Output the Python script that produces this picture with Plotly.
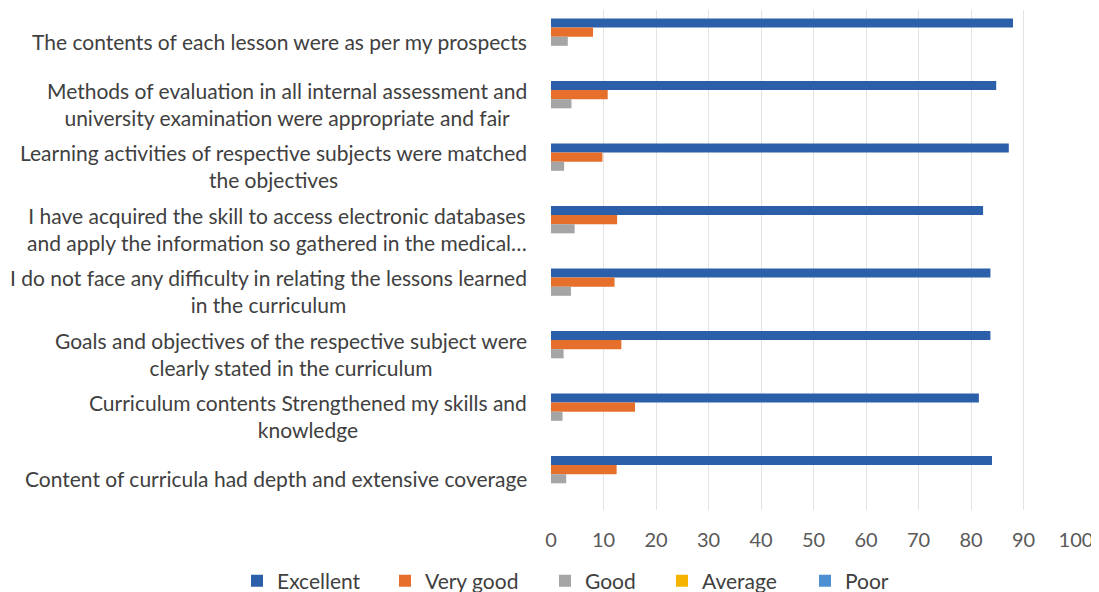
import plotly.graph_objects as go

categories = [
    "The contents of each lesson were as per my prospects",
    "Methods of evaluation in all internal assessment and<br>university examination were appropriate and fair",
    "Learning activities of respective subjects were matched<br>the objectives",
    "I have acquired the skill to access electronic databases<br>and apply the information so gathered in the medical…",
    "I do not face any difficulty in relating the lessons learned<br>in the curriculum",
    "Goals and objectives of the respective subject were<br>clearly stated in the curriculum",
    "Curriculum contents Strengthened my skills and<br>knowledge",
    "Content of curricula had depth and extensive coverage",
]
excellent = [88.0, 84.8, 87.2, 82.3, 83.7, 83.7, 81.5, 84.0]
very_good = [8.0, 10.8, 9.8, 12.6, 12.1, 13.4, 16.0, 12.5]
good = [3.2, 3.9, 2.5, 4.5, 3.8, 2.4, 2.2, 2.9]
average = [0, 0, 0, 0, 0, 0, 0, 0]
poor = [0, 0, 0, 0, 0, 0, 0, 0]
x_ticks = [0, 10, 20, 30, 40, 50, 60, 70, 80, 90, 100]

series = [
    ("Excellent", excellent, "#2c5fa9"),
    ("Very good", very_good, "#e66f2c"),
    ("Good", good, "#a5a5a5"),
    ("Average", average, "#f5b400"),
    ("Poor", poor, "#4d8fd1"),
]
legend_text_left = [277, 425, 585, 702, 845]  # page px where each legend label starts

FONT = "Lato"
W, H = 1091, 584  # page body has an 8px margin
fig = go.Figure()
legend_ids = ["legend", "legend2", "legend3", "legend4", "legend5"]
for (name, vals, col), lid in zip(series, legend_ids):
    fig.add_trace(go.Bar(
        y=categories, x=vals, name=name, orientation="h",
        marker=dict(color=col, line=dict(width=0)), legend=lid,
    ))

for cat in categories:
    fig.add_annotation(
        x=-0.042, xref="paper", y=cat, yref="y",
        text=cat, showarrow=False, xanchor="right", yanchor="middle",
        align="center", font=dict(family=FONT, size=21, color="#404040"),
    )

legend_style = dict(
    orientation="h", xref="container", yref="container",
    xanchor="left", y=1 - (581 - 8) / H, yanchor="middle",
    font=dict(family=FONT, size=21, color="#404040"),
    itemwidth=30, bgcolor="rgba(0,0,0,0)",
)
legends = {}
for lid, tx in zip(legend_ids, legend_text_left):
    legends[lid] = dict(legend_style, x=(tx - 8 - 40) / W)

fig.update_layout(
    width=W, height=H,
    margin=dict(l=543, r=23, t=2, b=82),
    paper_bgcolor="white", plot_bgcolor="white",
    barmode="group", bargap=0.27, bargroupgap=0,
    font=dict(family=FONT, color="#595959"),
    showlegend=True,
    xaxis=dict(
        range=[0, 100], tickvals=x_ticks, ticktext=[str(v) for v in x_ticks],
        showgrid=True, gridcolor="#e3e3e3", gridwidth=1, zeroline=False,
        showline=False, tickfont=dict(family=FONT, size=20, color="#595959"),
        ticklabelstandoff=16, fixedrange=True,
    ),
    yaxis=dict(
        autorange="reversed", showticklabels=False, showgrid=False,
        showline=False, zeroline=False, ticks="",
    ),
    **legends,
)

fig.write_html("out.html")
